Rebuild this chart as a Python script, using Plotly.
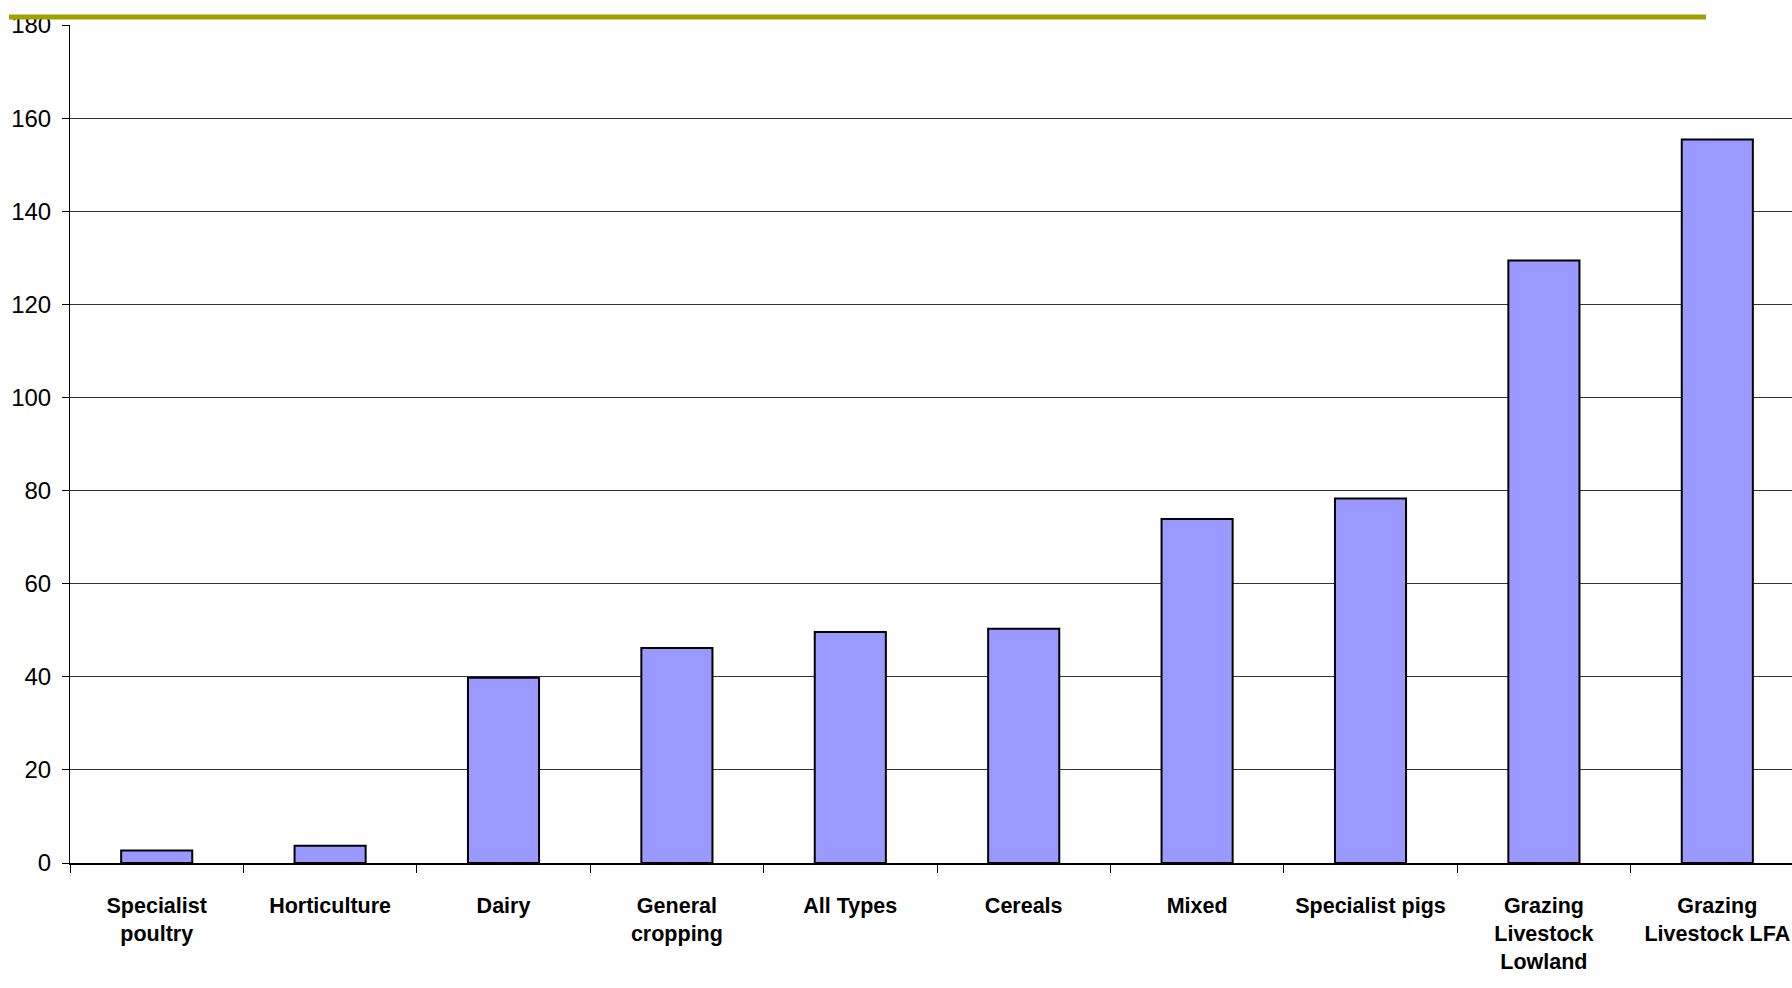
import plotly.graph_objects as go

categories = ["Specialist<br>poultry", "Horticulture", "Dairy", "General<br>cropping",
              "All Types", "Cereals", "Mixed", "Specialist pigs",
              "Grazing<br>Livestock<br>Lowland", "Grazing<br>Livestock LFA"]
values = [2.7, 3.7, 39.8, 46.2, 49.6, 50.3, 73.9, 78.3, 129.4, 155.4]
y_ticks = [0, 20, 40, 60, 80, 100, 120, 140, 160, 180]

W, H = 1792, 988
L, R, T, B = 70, 0, 25, 125
pw = W - L - R
ph = H - T - B
step = 173.4  # px per category in reference

fig = go.Figure(go.Bar(
    x=categories, y=values,
    width=0.41,
    marker=dict(color="#9999FF", line=dict(color="black", width=2)),
))

fig.update_layout(
    width=W, height=H,
    margin=dict(l=L, r=R, t=T, b=B, autoexpand=False),
    plot_bgcolor="white", paper_bgcolor="white",
    showlegend=False,
    font=dict(family="Liberation Sans, Arial", color="black"),
    shapes=[dict(type="line", xref="paper", yref="paper",
                 x0=(9 - L) / pw, x1=(1706 - L) / pw,
                 y0=(H - B - 17) / ph, y1=(H - B - 17) / ph,
                 line=dict(color="#A0A000", width=5))],
)

fig.update_xaxes(
    type="category",
    range=[-0.5, -0.5 + pw / step],
    showline=True, linecolor="black", linewidth=2,
    ticks="outside", ticklen=8, tickcolor="black", tickwidth=1,
    tickson="boundaries",
    showgrid=False, zeroline=False,
    tickfont=dict(size=21.5, weight="bold"),
    ticklabelstandoff=22,
    ticklabeloverflow="allow",
)
fig.update_yaxes(
    range=[0, 180], tickmode="array", tickvals=y_ticks,
    showline=True, linecolor="black", linewidth=1,
    ticks="outside", ticklen=7, tickcolor="black",
    showgrid=True, gridcolor="#333333", gridwidth=1,
    zeroline=False,
    tickfont=dict(size=24),
    ticklabelstandoff=6,
)

fig.write_html(
    "out.html",
    config={"displayModeBar": False},
    post_script="document.body.style.margin='0px';document.body.style.overflow='hidden';",
)
